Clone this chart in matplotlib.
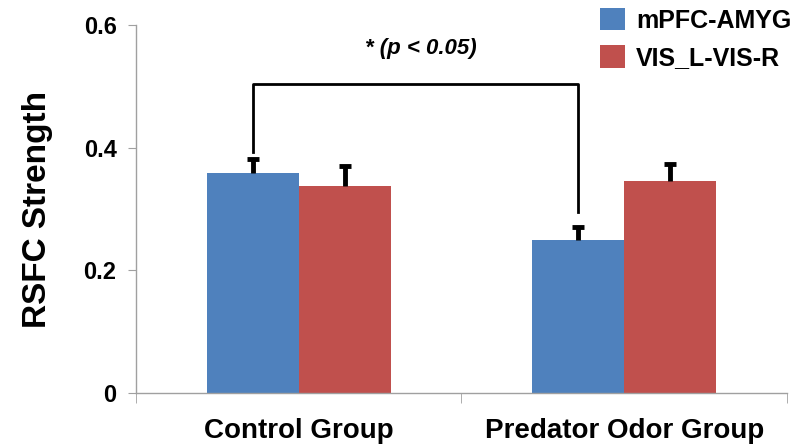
import numpy as np
import matplotlib.pyplot as plt
from matplotlib.patches import Patch

plt.rcParams['font.family'] = ['Liberation Sans', 'DejaVu Sans']

groups = ['Control Group', 'Predator Odor Group']
series = ['mPFC-AMYG', 'VIS_L-VIS-R']
mpfc = [0.359, 0.250]
mpfc_err = [0.022, 0.021]
vis = [0.338, 0.346]
vis_err = [0.032, 0.028]
yticks = [0, 0.2, 0.4, 0.6]
ytick_labels = ['0', '0.2', '0.4', '0.6']

blue = '#4F81BD'
red = '#C0504D'

fig = plt.figure(figsize=(8.06, 4.47), dpi=100)
ax = fig.add_axes([0.1687, 0.1208, 0.8077, 0.8232])

x = np.arange(len(groups))
w = 0.283
ax.bar(x - w/2, mpfc, w, color=blue)
ax.bar(x + w/2, vis, w, color=red)

# one-sided error bars: stem plus top cap only
for xs, vals, errs in [(x - w/2, mpfc, mpfc_err), (x + w/2, vis, vis_err)]:
    tops = np.array(vals) + np.array(errs)
    ax.vlines(xs, vals, tops, color='black', lw=3.5)
    ax.plot(xs, tops, ls='none', marker='_', ms=8, mew=3.5, color='black')

# significance bracket
yb = 0.504
ax.plot([x[0] - w/2, x[0] - w/2, x[1] - w/2, x[1] - w/2],
        [mpfc[0] + mpfc_err[0] + 0.012, yb, yb, mpfc[1] + mpfc_err[1] + 0.024],
        color='black', lw=2)
ax.text(0.375, 0.561, '* (p < 0.05)', ha='center', va='center',
        fontsize=16, fontweight='bold', fontstyle='italic')

ax.set_xlim(-0.5, 1.5)
ax.set_ylim(0, 0.6)
ax.set_yticks(yticks)
ax.set_yticklabels(ytick_labels)
ax.set_xticks(x)
ax.set_xticklabels(groups)
ax.set_xticks([-0.5, 0.5, 1.5], minor=True)
ax.tick_params(axis='x', which='major', length=0, pad=18, labelsize=20)
ax.tick_params(axis='x', which='minor', length=7, color='#a0a0a0', direction='out')
ax.tick_params(axis='y', length=6, color='#a0a0a0', pad=8, labelsize=17)
for lab in ax.get_xticklabels() + ax.get_yticklabels():
    lab.set_fontweight('bold')

for s in ['top', 'right']:
    ax.spines[s].set_visible(False)
for s in ['left', 'bottom']:
    ax.spines[s].set_color('#a0a0a0')
    ax.spines[s].set_linewidth(1)

ax.set_ylabel('RSFC Strength', fontsize=24, fontweight='bold', labelpad=22)

handles = [Patch(facecolor=blue), Patch(facecolor=red)]
fig.legend(handles, series, loc='upper left', bbox_to_anchor=(600/806, 1 - 8/447),
           frameon=False, prop={'size': 18, 'weight': 'bold'},
           handlelength=1.0, handleheight=1.0, handletextpad=0.45,
           labelspacing=0.5, borderpad=0, borderaxespad=0)

fig.savefig('out.png', dpi=100)
